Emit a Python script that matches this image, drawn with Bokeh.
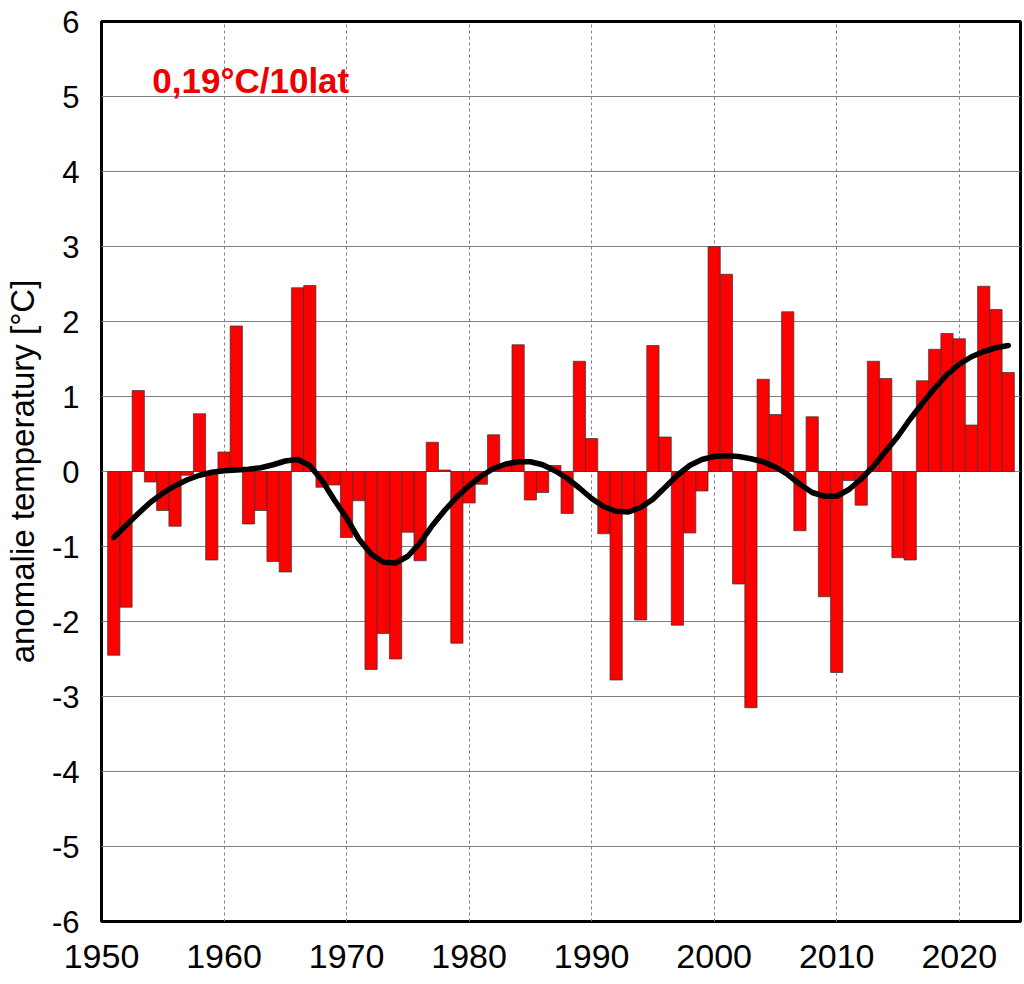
from bokeh.plotting import figure
from bokeh.models import Range1d, Label, FixedTicker
from bokeh.embed import file_html
from bokeh.resources import INLINE

years = list(range(1951, 2025))
anomaly = [
    -2.45, -1.81, 1.08, -0.14, -0.52, -0.73, -0.05, 0.77, -1.18, 0.26,
    1.94, -0.70, -0.52, -1.20, -1.34, 2.45, 2.48, -0.21, -0.18, -0.88,
    -0.39, -2.64, -2.16, -2.50, -0.81, -1.19, 0.39, 0.02, -2.29, -0.42,
    -0.17, 0.49, 0.09, 1.69, -0.38, -0.28, 0.08, -0.56, 1.47, 0.44,
    -0.83, -2.78, -0.55, -1.98, 1.68, 0.46, -2.05, -0.82, -0.26, 3.00,
    2.63, -1.50, -3.15, 1.23, 0.76, 2.13, -0.79, 0.73, -1.67, -2.68,
    -0.12, -0.45, 1.47, 1.24, -1.15, -1.18, 1.21, 1.63, 1.84, 1.77,
    0.62, 2.47, 2.16, 1.32,
]
trend = [
    -0.88, -0.72, -0.56, -0.41, -0.29, -0.19, -0.11, -0.05, -0.01, 0.01,
    0.02, 0.03, 0.05, 0.09, 0.14, 0.16, 0.08, -0.12, -0.38, -0.62,
    -0.90, -1.10, -1.21, -1.22, -1.13, -0.95, -0.72, -0.52, -0.34, -0.19,
    -0.06, 0.04, 0.10, 0.13, 0.13, 0.09, 0.01, -0.09, -0.22, -0.36,
    -0.47, -0.53, -0.54, -0.48, -0.37, -0.21, -0.05, 0.08, 0.16, 0.20,
    0.21, 0.20, 0.17, 0.13, 0.06, -0.04, -0.17, -0.28, -0.33, -0.33,
    -0.24, -0.10, 0.07, 0.27, 0.47, 0.70, 0.91, 1.11, 1.29, 1.43,
    1.53, 1.60, 1.65, 1.68,
]
x_ticks = [1950, 1960, 1970, 1980, 1990, 2000, 2010, 2020]
y_ticks = [-6, -5, -4, -3, -2, -1, 0, 1, 2, 3, 4, 5, 6]
y_tick_labels = ["-6", "-5", "-4", "-3", "-2", "-1", "0", "1", "2", "3", "4", "5", "6"]
y_label = "anomalie temperatury [°C]"
trend_text = "0,19°C/10lat"

FONT = "Liberation Sans"

p = figure(
    output_backend="svg", toolbar_location=None,
    frame_width=919, frame_height=900,
    min_border_left=101, min_border_top=21, min_border_right=4, min_border_bottom=62,
    x_range=Range1d(1950, 2025), y_range=Range1d(-6, 6),
    background_fill_color="white", border_fill_color="white",
)

p.outline_line_color = "black"
p.outline_line_width = 3
p.outline_line_alpha = 1

p.xaxis.ticker = FixedTicker(ticks=x_ticks)
p.yaxis.ticker = FixedTicker(ticks=y_ticks)
p.yaxis.major_label_overrides = {t: s for t, s in zip(y_ticks, y_tick_labels)}
for ax in (p.xaxis, p.yaxis):
    ax.axis_line_color = None
    ax.major_tick_line_color = None
    ax.minor_tick_line_color = None
    ax.major_tick_in = 0
    ax.major_tick_out = 0
    ax.minor_tick_in = 0
    ax.minor_tick_out = 0
    ax.major_label_text_font = FONT
    ax.major_label_text_color = "black"

p.xaxis.major_label_text_font_size = "34px"
p.xaxis.major_label_standoff = 23
p.yaxis.major_label_text_font_size = "31px"
p.yaxis.major_label_standoff = 22

p.yaxis.axis_label = y_label
p.yaxis.axis_label_text_font = FONT
p.yaxis.axis_label_text_font_size = "33px"
p.yaxis.axis_label_text_font_style = "normal"
p.yaxis.axis_label_text_color = "black"
p.yaxis.axis_label_standoff = 8

p.ygrid.ticker = FixedTicker(ticks=y_ticks)
p.ygrid.grid_line_color = "#808080"
p.ygrid.grid_line_width = 1
p.xgrid.ticker = FixedTicker(ticks=x_ticks)
p.xgrid.grid_line_color = "#808080"
p.xgrid.grid_line_width = 1
p.xgrid.grid_line_dash = "3 3"

p.vbar(x=years, top=anomaly, bottom=0, width=1.0,
       fill_color="#FF0000", line_color="#333333", line_width=0.7)

p.line(years, trend, line_color="black", line_width=5.5,
       line_join="round", line_cap="round")

p.add_layout(Label(x=1954.15, y=5.21, text=trend_text, text_color="#EE0000",
                   text_font=FONT, text_font_size="35px", text_font_style="bold",
                   text_baseline="alphabetic", text_align="left"))

open("out.html", "w").write(file_html(p, INLINE))
